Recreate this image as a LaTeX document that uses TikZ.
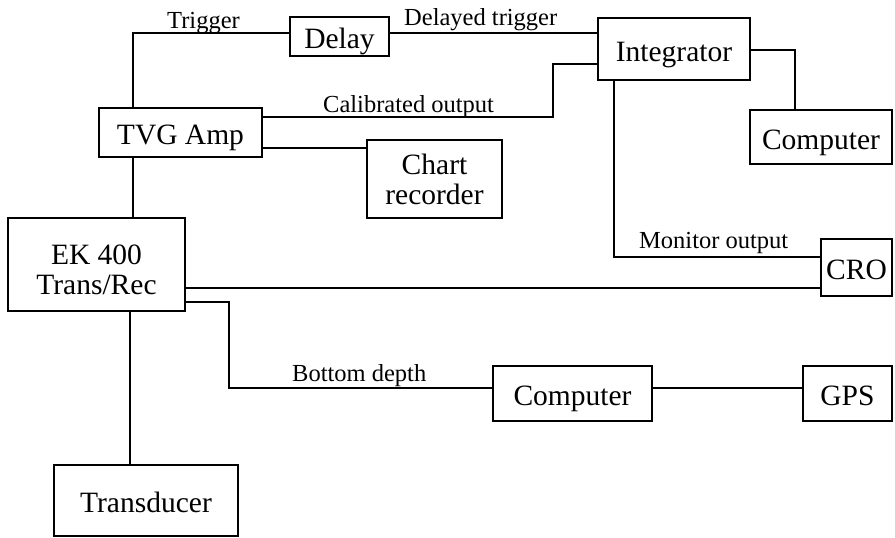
\documentclass[tikz,border=0pt]{standalone}
\usepackage{fontspec}
\setmainfont{Liberation Serif}
\usetikzlibrary{calc}
\begin{document}
\begin{tikzpicture}[x=1pt,y=-1pt,
  boxbase/.style={draw,line width=1.8pt,rectangle,inner sep=0pt,align=center,
    font=\fontsize{29.5}{30}\selectfont},
  box/.style={boxbase,text height=24pt,text depth=0pt},
  lab/.style={anchor=base west,inner sep=0pt,font=\fontsize{24.5}{26}\selectfont},
  wire/.style={line width=1.7pt}]
\useasboundingbox (0,0) rectangle (895,538);
% boxes
\node[box,minimum width=99pt,minimum height=39pt] (delay) at (339.5,36.5) {Delay};
\node[box,minimum width=152pt,minimum height=62pt] (integ) at (674,49) {Integrator};
\node[box,minimum width=163pt,minimum height=49pt] (tvg) at (180.5,132.5) {TVG Amp};
\node[boxbase,minimum width=135pt,minimum height=78pt] (chart) at (434.5,179) {Chart\\recorder};
\node[box,minimum width=142pt,minimum height=54pt] (comp1) at (821,137) {Computer};
\node[boxbase,minimum width=177pt,minimum height=93pt] (ek) at (96.5,264.5) {\rule{0pt}{31pt}EK 400\\Trans/Rec};
\node[box,minimum width=71pt,minimum height=57pt] (cro) at (856.5,267.5) {CRO};
\node[box,minimum width=159pt,minimum height=55pt] (comp2) at (572.5,393.5) {Computer};
\node[box,minimum width=89pt,minimum height=55pt] (gps) at (847.5,393.5) {GPS};
\node[box,minimum width=184pt,minimum height=71pt] (trans) at (146,500.5) {Transducer};
% connectors
\draw[wire] (tvg.north -| 133,0) |- (delay.west |- 0,33);
\draw[wire] (delay.east |- 0,33) -- (integ.west |- 0,33);
\draw[wire] (tvg.east |- 0,117) -- (553,117) -- (553,64) -- (integ.west |- 0,64);
\draw[wire] (tvg.east |- 0,148) -- (chart.west |- 0,148);
\draw[wire] (tvg.south -| 133,0) -- (ek.north -| 133,0);
\draw[wire] (integ.east |- 0,50) -| (comp1.north -| 795,0);
\draw[wire] (integ.south -| 614,0) |- (cro.west |- 0,257);
\draw[wire] (ek.east |- 0,288) -- (cro.west |- 0,288);
\draw[wire] (ek.east |- 0,302) -- (229,302) -- (229,388) -- (comp2.west |- 0,388);
\draw[wire] (comp2.east |- 0,388) -- (gps.west |- 0,388);
\draw[wire] (ek.south -| 130,0) -- (trans.north -| 130,0);
% labels
\node[lab] (l1) at (167,28) {Trigger};
\node[lab] (l2) at (404,25) {Delayed trigger};
\node[lab] (l3) at (323,112) {Calibrated output};
\node[lab] (l4) at (639,248) {Monitor output};
\node[lab] (l5) at (292,381) {Bottom depth};
\end{tikzpicture}
\end{document}
